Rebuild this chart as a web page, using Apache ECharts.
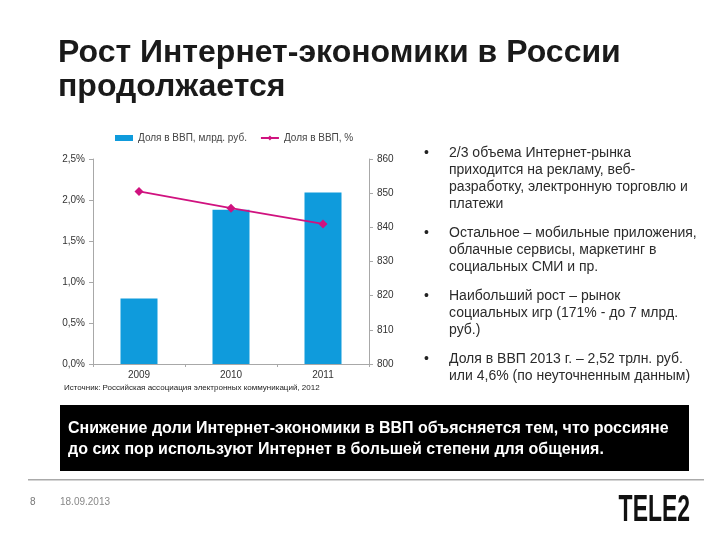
<!DOCTYPE html>
<html><head><meta charset="utf-8">
<style>html,body{margin:0;padding:0;background:#fff}#c{width:720px;height:540px}</style>
<script src="https://cdn.jsdelivr.net/npm/echarts@6/dist/echarts.min.js"></script>
</head><body><div id="c"></div>
<script>
const categories = ['2009','2010','2011'];
const barValues = [0.80,1.88,2.09];
const lineValues = [850.5,845.6,841];
const leftTicks = {min:0,max:2.5,interval:0.5};
const rightTicks = {min:800,max:860,interval:10};
const barName = 'Доля в ВВП, млрд. руб.';
const lineName = 'Доля в ВВП, %';
const titleLines = ['Рост Интернет-экономики в России','продолжается'];
const bullets = [
 [153,['2/3 объема Интернет-рынка','приходится на рекламу, веб-','разработку, электронную торговлю и','платежи']],
 [233,['Остальное – мобильные приложения,','облачные сервисы, маркетинг в','социальных СМИ и пр.']],
 [296,['Наибольший рост – рынок','социальных игр (171% - до 7 млрд.','руб.)']],
 [359,['Доля в ВВП 2013 г. – 2,52 трлн. руб.','или 4,6% (по неуточненным данным)']]
];
const source = 'Источник: Российская ассоциация электронных коммуникаций, 2012';
const boxLines = ['Снижение доли Интернет-экономики в ВВП объясняется тем, что россияне','до сих пор используют Интернет в большей степени для общения.'];
const F = '"Liberation Sans",Arial,sans-serif';
const g = [];
const txt=(x,y,t,size,color,weight,align,sx)=>g.push({type:'text',x,y,scaleX:sx||1,style:{text:t,font:(weight||'normal')+' '+size+'px '+F,fill:color,textVerticalAlign:'middle',textAlign:align||'left'}});
titleLines.forEach((t,i)=>txt(58,53+i*34.5,t,32,'#1a1a1a','bold'));
bullets.forEach(([y,ls])=>{
  txt(424,y,'•',14,'#222');
  ls.forEach((t,i)=>txt(449,y+i*17,t,14,'#2b2b2b'));
});
txt(64,388,source,8,'#222');
g.push({type:'rect',shape:{x:60,y:405,width:629,height:66},style:{fill:'#000'}});
boxLines.forEach((t,i)=>txt(68,429+i*20.5,t,16,'#fff','bold'));
g.push({type:'rect',shape:{x:28,y:479,width:676,height:1.5},style:{fill:'#aaa'}});
txt(30,502,'8',10,'#777');
txt(60,502,'18.09.2013',10,'#888');
txt(690,511,'TELE2',37,'#111','bold','right',0.62);
const chart = echarts.init(document.getElementById('c'),null,{renderer:'canvas'});
const axisStyle = {lineStyle:{color:'#a8a8a8',width:1}};
const axisText = {color:'#333',fontSize:10,fontFamily:F};
chart.setOption({
  animation:false,
  backgroundColor:'#fff',
  textStyle:{fontFamily:F},
  legend:{top:128,left:110,itemGap:13,itemWidth:18,itemHeight:6,
    textStyle:{color:'#444',fontSize:10,fontFamily:F},
    data:[{name:barName,icon:'rect'},{name:lineName}]},
  grid:{left:93,right:351,top:159,bottom:176,containLabel:false},
  xAxis:{type:'category',data:categories,axisLine:axisStyle,axisTick:{show:true,alignWithLabel:false,length:3,lineStyle:{color:'#a8a8a8'}},
    axisLabel:{...axisText,margin:6}},
  yAxis:[
   {type:'value',...leftTicks,position:'left',splitLine:{show:false},axisLine:{show:true,...axisStyle},axisTick:{show:true,length:4,lineStyle:{color:'#a8a8a8'}},
    axisLabel:{...axisText,margin:8,formatter:v=>v.toFixed(1).replace('.',',')+'%'}},
   {type:'value',...rightTicks,position:'right',splitLine:{show:false},axisLine:{show:true,...axisStyle},axisTick:{show:true,length:4,lineStyle:{color:'#a8a8a8'}},
    axisLabel:{...axisText,margin:8}}
  ],
  series:[
   {name:barName,type:'bar',data:barValues,barWidth:37,yAxisIndex:0,itemStyle:{color:'#0f9bdc'}},
   {name:lineName,type:'line',data:lineValues,yAxisIndex:1,symbol:'diamond',symbolSize:9,
    lineStyle:{color:'#d0127f',width:1.8},itemStyle:{color:'#d0127f'}}
  ],
  graphic:g
});
</script></body></html>
